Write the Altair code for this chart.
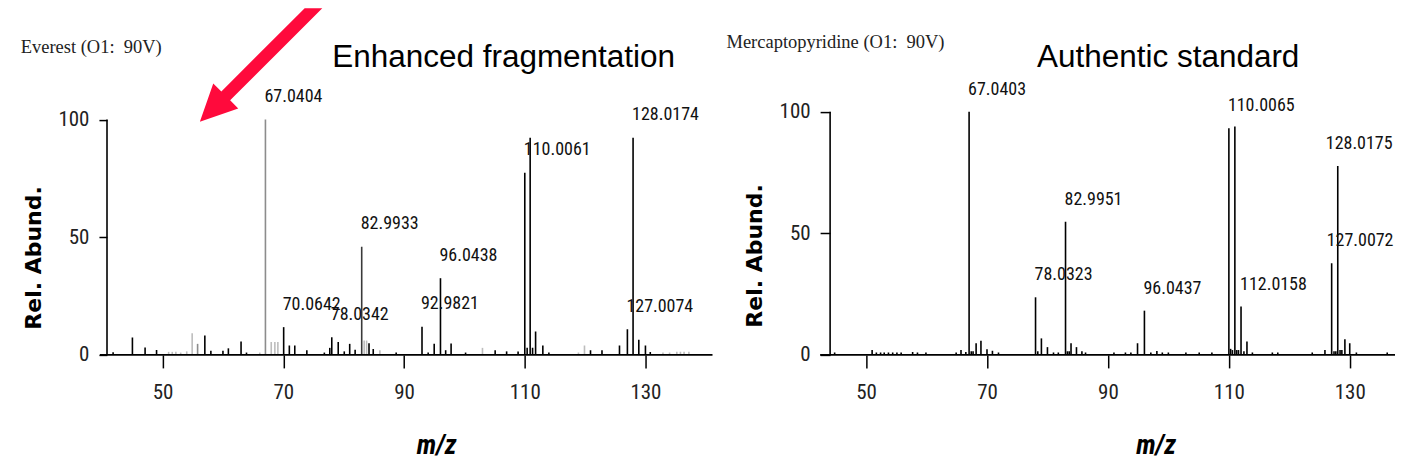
import altair as alt
import pandas as pd

NARROW = "Liberation Sans Narrow, Arial Narrow, Roboto Condensed, Liberation Sans, sans-serif"
SANS = "Liberation Sans, Arial, sans-serif"
SERIF = "Liberation Serif, Times New Roman, serif"
BOLD_SANS = "DejaVu Sans, sans-serif"
RED = "#FF0A3C"

# ---------------- data: left spectrum (Everest) ----------------
left_mz = [41.8, 45.0, 47.1, 49.0, 51.0, 51.6, 52.2, 53.0, 54.0, 54.9,
           55.8, 57.0, 58.0, 60.0, 60.9, 63.0, 63.9, 66.1, 67.04, 68.0,
           68.6, 69.1, 70.06, 71.0, 71.9, 73.9, 76.8, 77.7, 78.03, 79.1,
           80.1, 81.0, 81.9, 82.99, 83.4, 83.8, 84.2, 84.9, 86.0, 88.7,
           92.98, 94.0, 95.0, 96.04, 96.9, 97.8, 100.2, 103.0, 105.1, 107.0,
           108.9, 110.01, 110.4, 110.9, 111.3, 111.8, 113.0, 114.0, 118.9, 119.9,
           120.9, 122.8, 125.7, 127.01, 127.95, 128.9, 130.0, 130.8, 132.9, 134.0,
           135.2, 135.8, 136.4, 137.2]
left_ab = [1.1, 7.4, 3.1, 2.1, 1.3, 1.3, 1.3, 1.0, 1.5, 9.2,
           4.7, 8.2, 1.8, 1.8, 2.8, 5.7, 1.0, 1.0, 100.0, 5.5,
           5.5, 5.5, 11.8, 4.0, 4.0, 2.0, 1.0, 3.0, 7.5, 5.5,
           1.5, 4.7, 2.2, 46.0, 6.1, 6.1, 5.0, 2.5, 2.0, 1.0,
           12.0, 1.0, 4.7, 32.6, 2.0, 4.9, 1.0, 3.0, 2.0, 1.5,
           1.5, 77.4, 3.0, 92.3, 3.0, 9.9, 4.0, 1.0, 1.0, 4.0,
           2.0, 2.0, 4.0, 10.9, 92.3, 6.4, 4.0, 1.2, 1.0, 1.0,
           1.3, 1.3, 1.3, 1.3]
# k = black, d = dark grey, m = mid grey, l = light grey
left_tone = ["k", "k", "k", "k", "l", "l", "l", "l", "l", "l",
             "m", "k", "k", "k", "k", "k", "k", "l", "m", "l",
             "l", "l", "k", "k", "k", "k", "k", "k", "k", "k",
             "k", "k", "k", "d", "l", "l", "k", "k", "l", "k",
             "k", "k", "k", "k", "k", "k", "k", "l", "k", "k",
             "k", "k", "k", "k", "k", "k", "k", "k", "l", "l",
             "k", "k", "k", "k", "k", "k", "k", "k", "l", "l",
             "l", "l", "l", "l"]
left_label_mz = [67.04, 70.06, 78.03, 82.99, 92.98, 96.04, 110.01, 127.01, 127.95]
left_label_text = ["67.0404", "70.0642", "78.0342", "82.9933", "92.9821",
                   "96.0438", "110.0061", "127.0074", "128.0174"]

# ---------------- data: right spectrum (Mercaptopyridine) ----------------
right_mz = [44.8, 51.0, 51.7, 52.4, 53.0, 53.7, 54.4, 55.1, 55.8, 57.7,
            58.5, 59.9, 64.9, 65.7, 66.5, 67.04, 67.4, 67.7, 68.2, 69.0,
            70.0, 70.9, 71.9, 78.03, 78.4, 79.0, 80.0, 81.0, 81.8, 82.99,
            83.3, 83.6, 83.9, 84.8, 85.7, 86.3, 91.0, 92.9, 93.8, 94.9,
            96.04, 97.1, 98.1, 99.0, 100.0, 102.9, 105.1, 107.2, 110.01, 110.3,
            110.6, 111.0, 111.3, 111.6, 112.02, 112.5, 113.0, 113.9, 117.2, 118.1,
            123.8, 125.9, 127.01, 127.4, 127.7, 128.02, 128.4, 128.7, 129.2, 130.0,
            131.1, 136.2, 138.1]
right_ab = [1.0, 2.0, 1.0, 1.0, 1.0, 1.0, 1.0, 1.0, 1.0, 1.2,
            1.0, 1.0, 1.0, 2.0, 1.2, 100.0, 1.5, 1.5, 4.8, 5.8,
            2.3, 1.7, 1.0, 23.7, 1.5, 6.8, 3.2, 1.0, 1.0, 54.8,
            1.5, 1.5, 4.8, 3.2, 1.5, 1.0, 1.0, 1.0, 1.0, 4.8,
            18.2, 1.0, 1.6, 1.0, 1.0, 1.0, 1.0, 1.0, 93.2, 2.5,
            2.0, 93.9, 2.0, 2.0, 19.9, 1.5, 5.5, 1.0, 1.0, 1.0,
            1.0, 2.0, 37.7, 1.5, 1.5, 77.7, 2.0, 2.0, 6.4, 4.8,
            1.0, 1.0, 1.0]
right_label_mz = [67.04, 78.03, 82.99, 96.04, 110.01, 112.02, 127.01, 128.02]
right_label_text = ["67.0403", "78.0323", "82.9951", "96.0437", "110.0065",
                    "112.0158", "127.0072", "128.0175"]
# small horizontal nudges (pixels) so labels at the right edge stay in view
right_label_nudge = {127.01: -4, 128.02: -11}

# texts
panel_titles = ["Enhanced fragmentation", "Authentic standard"]
sample_names = ["Everest (O1:\u00a0 90V)", "Mercaptopyridine (O1:\u00a0 90V)"]
y_title = "Rel. Abund."
x_title = "m/z"
x_ticks = [50, 70, 90, 110, 130]
y_ticks = [0, 50, 100]

TONES = {"k": "#000000", "d": "#3a3a3a", "m": "#8c8c8c", "l": "#bdbdbd"}

H = 347

# red arrow outline (unit shape, scaled by the symbol size)
ARROW_PATH = ("M-0.58,0.567L-0.196,0.433L-0.277,0.352L0.645,-0.57"
              "L0.469,-0.57L-0.365,0.264L-0.446,0.183Z")


def peaks_frame(mz, ab, tones, lab_mz, lab_text, nudge, px_per_unit):
    labels = dict(zip(lab_mz, lab_text))
    return pd.DataFrame({
        "mz": mz,
        "ab": ab,
        "col": [TONES[t] for t in tones],
        "lab": [labels.get(m, "") for m in mz],
        "lx": [m + nudge.get(m, 0) / px_per_unit for m in mz],
    })


def text_layer(text, x, y, font, size, weight="normal", style="normal",
               angle=0, align="center", baseline="alphabetic", color="black"):
    return alt.Chart(pd.DataFrame({"t": [text]})).mark_text(
        font=font, fontSize=size, fontWeight=weight, fontStyle=style,
        angle=angle, align=align, baseline=baseline, color=color,
    ).encode(x=alt.value(x), y=alt.value(y), text="t:N")


def panel(df, xdom, ydom, yaxis_x, base_x0, base_x1, ytick, yoffset,
          width, label_dy, decor):
    xs = alt.Scale(domain=xdom, nice=False, zero=False)
    ys = alt.Scale(domain=ydom, nice=False, zero=False)
    xaxis = alt.Axis(values=x_ticks, domain=False, grid=False, tickSize=13,
                     tickWidth=1.5, tickColor="black", labelFont=NARROW,
                     labelFontSize=21, labelColor="#222", labelPadding=14,
                     labelFlush=False, title=None)
    yaxis = alt.Axis(values=y_ticks, domain=False, grid=False, tickSize=ytick,
                     tickWidth=1.5, tickColor="black", labelFont=NARROW,
                     labelFontSize=21, labelColor="#222", labelPadding=10,
                     offset=yoffset, title=None)
    frame = pd.DataFrame({"x0": [base_x0, yaxis_x], "x1": [base_x1, yaxis_x],
                          "y0": [0, 0], "y1": [0, 100]})
    rules = alt.Chart(df).mark_rule(strokeWidth=1.6, clip=True).encode(
        x=alt.X("mz:Q", scale=xs, axis=xaxis),
        y=alt.Y("ab:Q", scale=ys, axis=yaxis),
        y2=alt.datum(0),
        color=alt.Color("col:N", scale=None),
    )
    axes_lines = alt.Chart(frame).mark_rule(strokeWidth=1.6, color="black").encode(
        x=alt.X("x0:Q", scale=xs, axis=xaxis),
        x2="x1:Q",
        y=alt.Y("y0:Q", scale=ys, axis=yaxis),
        y2="y1:Q",
    )
    labels = alt.Chart(df).transform_filter("datum.lab != ''").mark_text(
        align="left", baseline="alphabetic", dx=-1, dy=label_dy, font=NARROW,
        fontSize=18, color="#111", clip=True,
    ).encode(
        x=alt.X("lx:Q", scale=xs, axis=xaxis),
        y=alt.Y("ab:Q", scale=ys, axis=yaxis),
        text="lab:N",
    )
    return alt.layer(rules, axes_lines, labels, *decor).properties(width=width, height=H)


left_df = peaks_frame(left_mz, left_ab, left_tone, left_label_mz, left_label_text, {}, 6.04)
right_df = peaks_frame(right_mz, right_ab, ["k"] * len(right_mz), right_label_mz,
                       right_label_text, right_label_nudge, 6.05)

arrow = alt.Chart(pd.DataFrame({"a": [0]})).mark_point(
    shape=ARROW_PATH, filled=True, size=40000, color=RED, opacity=1, strokeWidth=0,
).encode(x=alt.value(250), y=alt.value(57))

left_decor = [
    text_layer(panel_titles[0], 496, 58.7, SANS, 31.5),
    text_layer(sample_names[0], 12.7, 45.3, SERIF, 18.5, align="left", color="#222"),
    text_layer(y_title, 26, 250, BOLD_SANS, 22, weight="bold", angle=270,
               baseline="middle"),
    text_layer(x_title, 429, 452.5, NARROW, 27, weight="bold", style="italic",
               baseline="bottom"),
    arrow,
]
right_decor = [
    text_layer(panel_titles[1], 449, 58.7, SANS, 31.5),
    text_layer(sample_names[1], 7, 40, SERIF, 18.5, align="left", color="#222"),
    text_layer(y_title, 36, 248, BOLD_SANS, 22, weight="bold", angle=270,
               baseline="middle"),
    text_layer(x_title, 437, 452.5, NARROW, 27, weight="bold", style="italic",
               baseline="bottom"),
]

left = panel(left_df, [24.387, 142.268], [0, 147.35], 40.79, 39.62, 141.11,
             8, -99, 712, -17.5, left_decor)
right = panel(right_df, [25.752, 137.488], [0, 142.62], 44.05, 42.40, 137.488,
              10, -110.7, 676, -17, right_decor)

chart = alt.hconcat(left, right, spacing=0, bounds="flush").properties(
    padding=0, background="white",
).configure_view(stroke=None)

chart.save("out.html", embed_options={"renderer": "svg", "actions": False})
